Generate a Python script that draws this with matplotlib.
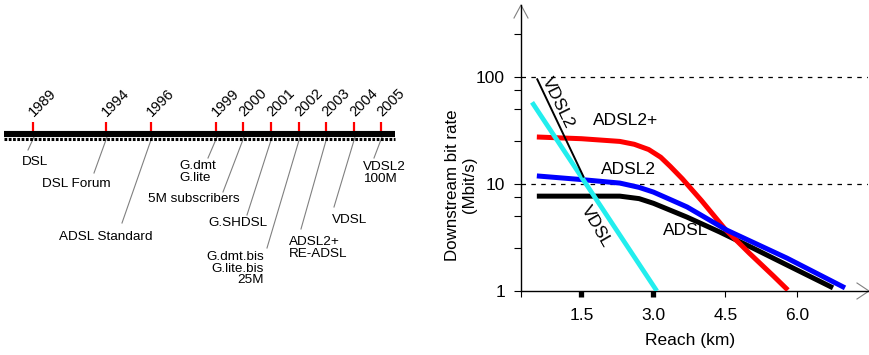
import matplotlib
matplotlib.use('Agg')
import matplotlib.pyplot as plt

plt.rcParams['font.family'] = ['Liberation Sans', 'DejaVu Sans']

# Timeline milestones
years = ['1989', '1994', '1996', '1999', '2000', '2001', '2002', '2003', '2004', '2005']
events = ['DSL', 'DSL Forum', 'ADSL Standard', 'G.dmt\nG.lite', '5M subscribers',
          'G.SHDSL', 'G.dmt.bis\nG.lite.bis\n25M', 'ADSL2+\nRE-ADSL', 'VDSL', 'VDSL2\n100M']

# Downstream rate (Mbit/s) vs reach (km)
vdsl2_km = [0.57, 1.55]
vdsl2_rate = [97, 11.5]
vdsl_km = [0.47, 3.07]
vdsl_rate = [58, 1.0]
adsl2p_km = [0.57, 1.5, 2.3, 2.6, 2.9, 3.15, 3.35, 3.6, 4.0, 4.5, 5.0, 5.5, 5.8]
adsl2p_rate = [27.5, 26.5, 25.0, 23.5, 21.0, 17.8, 14.6, 11.2, 7.0, 3.75, 2.25, 1.38, 1.02]
adsl2_km = [0.57, 1.5, 2.3, 2.7, 3.0, 3.4, 3.7, 4.53, 5.78, 6.99]
adsl2_rate = [11.9, 11.0, 10.2, 9.3, 8.4, 7.0, 6.1, 3.7, 2.03, 1.07]
adsl_km = [0.57, 1.5, 2.3, 2.7, 3.0, 3.7, 4.38, 5.07, 5.78, 6.74]
adsl_rate = [7.7, 7.7, 7.7, 7.3, 6.6, 4.9, 3.56, 2.52, 1.75, 1.07]

# layout of the timeline (figure pixels)
tick_x = [33, 106, 151, 216, 243, 271, 299, 326, 354, 381]
lead_end = [(28, 150), (94, 173), (122, 223), (208, 158), (223, 192),
            (247, 215), (267, 248), (301, 229), (334, 207), (374, 158)]
text_pos = [(22, 156, 'left'), (42, 178, 'left'), (59, 231, 'left'), (179, 160, 'left'),
            (148, 193, 'left'), (208, 217, 'left'), (264, 251, 'right'), (289, 236, 'left'),
            (332, 214, 'left'), (363, 161, 'left')]

fig = plt.figure(figsize=(8.7, 3.55), dpi=100)

# background axes in pixel coordinates
bg = fig.add_axes([0, 0, 1, 1])
bg.set_xlim(0, 870)
bg.set_ylim(355, 0)
bg.axis('off')

# timeline bar
bg.plot([4, 395], [133.5, 133.5], color='black', lw=4.4, solid_capstyle='butt', zorder=3)
bg.plot([4, 395], [138.5, 138.5], color='black', lw=2.2, ls=(0, (0.9, 0.5)), zorder=3)

for x, yr in zip(tick_x, years):
    bg.plot([x, x], [121.5, 131], color='red', lw=1.6, solid_capstyle='butt', zorder=4)
    bg.text(x + 3, 119, yr, rotation=45, ha='left', va='bottom', rotation_mode='anchor',
            fontsize=10.5)

for x, (ex, ey), (tx, ty, ha), ev in zip(tick_x, lead_end, text_pos, events):
    bg.plot([x + 1, ex], [137, ey], color='#808080', lw=0.8, zorder=2)
    bg.text(tx, ty, ev, ha=ha, va='top', multialignment=ha, fontsize=9.7, linespacing=0.95)

# axis arrowheads
bg.plot([514, 521, 528], [18, 5, 18], color='#808080', lw=0.8)
bg.plot([857, 869, 857], [283, 291, 299], color='#808080', lw=0.8)

# reach chart
ax = fig.add_axes([521 / 870, 64 / 355, 347 / 870, 286 / 355])
ax.patch.set_visible(False)
ax.set_yscale('log')
ax.set_ylim(1, 10 ** (286 / 107))
ax.set_xlim(0.24, 0.24 + 347 / 48)

for s in ['top', 'right']:
    ax.spines[s].set_visible(False)
for s in ['left', 'bottom']:
    ax.spines[s].set_linewidth(1.0)

ax.axhline(10, color='black', lw=0.9, ls=(0, (3.6, 4.3)), zorder=1)
ax.axhline(100, color='black', lw=0.9, ls=(0, (3.6, 4.3)), zorder=1)

ax.plot(adsl_km, adsl_rate, color='black', lw=3.6, solid_capstyle='butt',
        solid_joinstyle='round', zorder=2)
ax.plot(adsl2p_km, adsl2p_rate, color='#ff0000', lw=3.6, solid_capstyle='butt',
        solid_joinstyle='round', zorder=3)
ax.plot(adsl2_km, adsl2_rate, color='#0000ff', lw=3.6, solid_capstyle='butt',
        solid_joinstyle='round', zorder=4)
ax.plot(vdsl_km, vdsl_rate, color='#22eeee', lw=3.4, solid_capstyle='butt', zorder=5)
ax.plot(vdsl2_km, vdsl2_rate, color='black', lw=1.4, solid_capstyle='butt', zorder=6)

ax.text(1.01, 58, 'VDSL2', rotation=-64, ha='center', va='center', fontsize=12.5, zorder=7)
ax.text(1.80, 4.05, 'VDSL', rotation=-60, ha='center', va='center', fontsize=12.5, zorder=7)
ax.text(2.41, 38.8, 'ADSL2+', ha='center', va='center', fontsize=12.5, zorder=7)
ax.text(2.47, 13.8, 'ADSL2', ha='center', va='center', fontsize=12.5, zorder=7)
ax.text(3.68, 3.64, 'ADSL', ha='center', va='center', fontsize=12.5, zorder=7)

ax.set_yticks([1, 10, 100])
ax.set_yticklabels(['1', '10', '100'])
ax.set_yticks([2.5, 5, 7.5, 25, 50, 75, 250], minor=True)
ax.set_yticklabels([], minor=True)
ax.tick_params(axis='y', which='both', direction='out', length=5, width=0.8, pad=6.5,
               labelsize=12.5)

ax.set_xticks([0.24, 1.5, 3.0, 4.5, 6.0])
ax.set_xticklabels(['', '1.5', '3.0', '4.5', '6.0'])
ax.tick_params(axis='x', which='both', direction='out', length=4.3, width=0.8, pad=8,
               labelsize=12.5)
xticks = ax.xaxis.get_major_ticks()
for t in xticks[1:3]:
    t.tick1line.set_markeredgewidth(3.8)

fig.text(461 / 870, 1 - 185 / 355, 'Downstream bit rate\n(Mbit/s)', rotation=90,
         ha='center', va='center', multialignment='center', fontsize=12.2)
fig.text(690 / 870, 1 - 341 / 355, 'Reach (km)', ha='center', va='center', fontsize=12.5)

fig.savefig('out.png', dpi=100)
